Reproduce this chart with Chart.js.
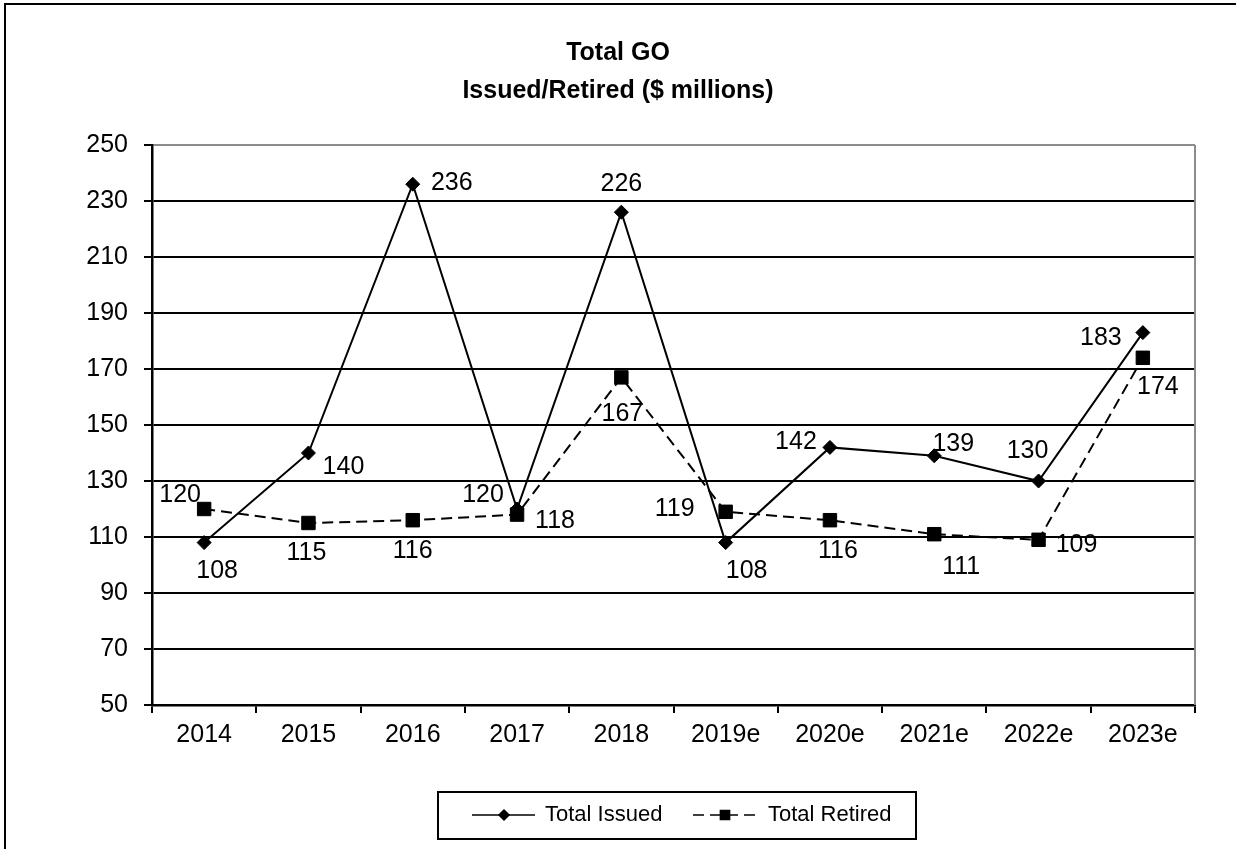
<!DOCTYPE html>
<html>
<head>
<meta charset="utf-8">
<title>Total GO Issued/Retired</title>
<script src="https://cdn.jsdelivr.net/npm/chart.js@4.4.1/dist/chart.umd.min.js"></script>
<style>
  html, body { margin: 0; padding: 0; background: #fff; }
  #wrap { position: relative; width: 1236px; height: 849px; }
  canvas { display: block; }
</style>
</head>
<body>
<div id="wrap"><canvas id="chart" width="1236" height="849"></canvas></div>
<script>
// Fiscal years (e = estimate)
const years = ['2014', '2015', '2016', '2017', '2018', '2019e', '2020e', '2021e', '2022e', '2023e'];
// General obligation debt, $ millions
const totalIssued  = [108, 140, 236, 120, 226, 108, 142, 139, 130, 183];
const totalRetired = [120, 115, 116, 118, 167, 119, 116, 111, 109, 174];
// Value axis
const yMin = 50, yMax = 250, yStep = 20;

const titleLines = ['Total GO', 'Issued/Retired ($ millions)'];
const FONT = "'Liberation Sans', Arial, sans-serif";

// Where each value label sits relative to its marker (dx, dy in px)
const issuedLabelOffsets = [[13, 29], [35, 14], [39, -1], [-34, -14], [0, -28], [21, 29], [-34, -5], [19, -12], [-11, -30], [-42, 6]];
const retiredLabelOffsets = [[-24, -14], [-2, 30], [0, 31], [38, 7], [1, 37], [-51, -3], [8, 31], [27, 33], [38, 5], [15, 29]];

const framePlugin = {
  id: 'frame',
  beforeDraw(chart) {
    const ctx = chart.ctx;
    ctx.save();
    ctx.fillStyle = '#fff';
    ctx.fillRect(0, 0, chart.width, chart.height);
    // outer frame (left and top edges)
    ctx.strokeStyle = '#000';
    ctx.lineWidth = 2;
    ctx.beginPath();
    ctx.moveTo(5, chart.height);
    ctx.lineTo(5, 4);
    ctx.lineTo(chart.width, 4);
    ctx.stroke();
    // title
    ctx.fillStyle = '#000';
    ctx.font = 'bold 25px ' + FONT;
    ctx.textAlign = 'center';
    ctx.textBaseline = 'middle';
    ctx.fillText(titleLines[0], 618, 53);
    ctx.fillText(titleLines[1], 618, 91);
    ctx.restore();
  },
  afterDraw(chart) {
    const ctx = chart.ctx;
    const a = chart.chartArea;
    ctx.save();
    // plot area right edge
    ctx.strokeStyle = '#8c8c8c';
    ctx.lineWidth = 2;
    ctx.beginPath();
    ctx.moveTo(a.right, a.top);
    ctx.lineTo(a.right, a.bottom);
    ctx.stroke();
    ctx.restore();
  }
};

const valueLabelPlugin = {
  id: 'valueLabels',
  afterDatasetsDraw(chart) {
    const ctx = chart.ctx;
    const offsets = [issuedLabelOffsets, retiredLabelOffsets];
    ctx.save();
    ctx.fillStyle = '#000';
    ctx.font = '25px ' + FONT;
    ctx.textAlign = 'center';
    ctx.textBaseline = 'middle';
    chart.data.datasets.forEach((ds, di) => {
      const meta = chart.getDatasetMeta(di);
      meta.data.forEach((pt, i) => {
        const off = offsets[di][i];
        ctx.fillText(String(ds.data[i]), pt.x + off[0], pt.y + off[1]);
      });
    });
    ctx.restore();
  }
};

const legendBoxPlugin = {
  id: 'legendBox',
  afterDraw(chart) {
    const ctx = chart.ctx;
    const ds = chart.data.datasets;
    const y = 815;
    ctx.save();
    // box
    ctx.strokeStyle = '#000';
    ctx.lineWidth = 2;
    ctx.strokeRect(438, 792, 478, 47);
    // Total Issued sample
    ctx.lineWidth = 1.5;
    ctx.beginPath();
    ctx.moveTo(472, y);
    ctx.lineTo(535, y);
    ctx.stroke();
    ctx.fillStyle = '#000';
    Chart.helpers.drawPoint(ctx, { pointStyle: ds[0].pointStyle, radius: 5, borderWidth: 1 }, 504, y);
    ctx.fill();
    // Total Retired sample
    ctx.setLineDash(ds[1].borderDash);
    ctx.beginPath();
    ctx.moveTo(693, y);
    ctx.lineTo(760, y);
    ctx.stroke();
    ctx.setLineDash([]);
    Chart.helpers.drawPoint(ctx, { pointStyle: ds[1].pointStyle, radius: 6.5, borderWidth: 1 }, 725, y);
    ctx.fill();
    // text
    ctx.font = '22px ' + FONT;
    ctx.textAlign = 'left';
    ctx.textBaseline = 'middle';
    ctx.fillText(ds[0].label, 545, y);
    ctx.fillText(ds[1].label, 768, y);
    ctx.restore();
  }
};

new Chart(document.getElementById('chart'), {
  type: 'line',
  data: {
    labels: years,
    datasets: [
      {
        label: 'Total Issued',
        data: totalIssued,
        borderColor: '#000',
        backgroundColor: '#000',
        borderWidth: 2,
        pointStyle: 'rectRot',
        pointRadius: 7,
        pointBorderWidth: 1,
        pointBackgroundColor: '#000',
        pointBorderColor: '#000',
        tension: 0
      },
      {
        label: 'Total Retired',
        data: totalRetired,
        borderColor: '#000',
        backgroundColor: '#000',
        borderWidth: 2,
        borderDash: [11, 6],
        pointStyle: 'rect',
        pointRadius: 9.5,
        pointBorderWidth: 1,
        pointBackgroundColor: '#000',
        pointBorderColor: '#000',
        tension: 0
      }
    ]
  },
  options: {
    responsive: false,
    animation: false,
    devicePixelRatio: 1,
    layout: { padding: { top: 145, left: 0, right: 41, bottom: 94 } },
    plugins: {
      legend: { display: false },
      title: { display: false },
      tooltip: { enabled: false }
    },
    scales: {
      x: {
        type: 'category',
        offset: true,
        afterFit(scale) { scale.height = 50; },
        grid: {
          display: true,
          offset: true,
          drawOnChartArea: false,
          drawTicks: true,
          tickLength: 8,
          color: '#000',
          lineWidth: 2
        },
        border: { display: true, color: '#000', width: 2.5 },
        ticks: {
          color: '#000',
          font: { family: FONT, size: 25 },
          padding: 7,
          maxRotation: 0,
          autoSkip: false
        }
      },
      y: {
        min: yMin,
        max: yMax,
        afterFit(scale) { scale.width = 152; },
        grid: {
          color: (c) => (c.tick && c.tick.value === yMax ? '#8c8c8c' : '#000'),
          tickColor: '#000',
          lineWidth: 2,
          drawTicks: true,
          tickLength: 8
        },
        border: { display: true, color: '#000', width: 2.5 },
        ticks: {
          stepSize: yStep,
          color: '#000',
          font: { family: FONT, size: 25 },
          padding: 16
        }
      }
    }
  },
  plugins: [framePlugin, valueLabelPlugin, legendBoxPlugin]
});
</script>
</body>
</html>
